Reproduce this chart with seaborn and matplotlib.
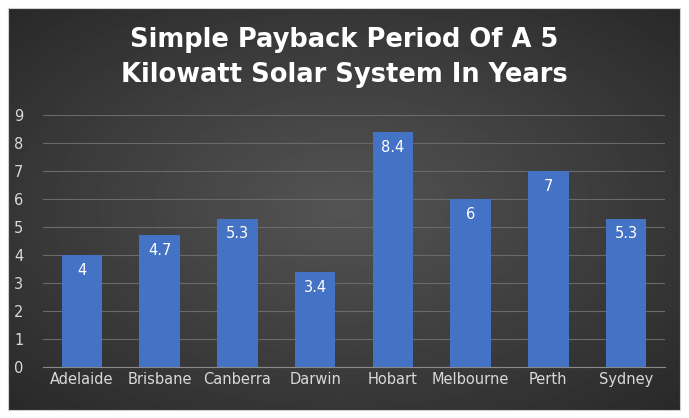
import numpy as np
import matplotlib
matplotlib.use("Agg")
import matplotlib.pyplot as plt
import seaborn as sns
import pandas as pd

cities = ["Adelaide", "Brisbane", "Canberra", "Darwin", "Hobart", "Melbourne", "Perth", "Sydney"]
payback = [4, 4.7, 5.3, 3.4, 8.4, 6, 7, 5.3]
labels = ["4", "4.7", "5.3", "3.4", "8.4", "6", "7", "5.3"]

fig = plt.figure(figsize=(6.89, 4.18), dpi=100)
fig.patch.set_facecolor("white")

bg = fig.add_axes([8/689, 8/418, 672/689, 402/418])
yy, xx = np.mgrid[-1:1:300j, -1:1:500j]
r = np.sqrt(xx**2 + yy**2)
img = np.clip(0.33 - 0.12 * r, 0.15, 0.35)
bg.imshow(img, cmap="gray", vmin=0, vmax=1, aspect="auto", extent=[0, 1, 0, 1])
bg.set_xticks([]); bg.set_yticks([])
for s in bg.spines.values():
    s.set_color("#d0d0d0")

ax = fig.add_axes([43/689, 51/418, 622/689, 252/418])
ax.patch.set_alpha(0)
df = pd.DataFrame({"city": cities, "val": payback})
sns.barplot(data=df, x="city", y="val", color="#4472C4", saturation=1, width=0.52, ax=ax)
ax.set_ylim(0, 9)
ax.set_yticks(range(10))
ax.grid(axis="y", color="#6a6a6a", linewidth=0.8)
ax.set_axisbelow(True)
for s in ["top", "right", "left"]:
    ax.spines[s].set_visible(False)
ax.spines["bottom"].set_color("#8a8a8a")
ax.tick_params(colors="#d9d9d9", labelsize=10.5, length=0)
ax.tick_params(axis="y", pad=14)
ax.set_xlabel(""); ax.set_ylabel("")
for i, (v, t) in enumerate(zip(payback, labels)):
    ax.text(i, v - 0.28, t, ha="center", va="top", color="white", fontsize=10.5)

fig.text(0.5, 0.862, "Simple Payback Period Of A 5\nKilowatt Solar System In Years",
         ha="center", va="center", color="white", fontsize=18.5, fontweight="bold",
         linespacing=1.45)

fig.savefig("out.png", dpi=100)
